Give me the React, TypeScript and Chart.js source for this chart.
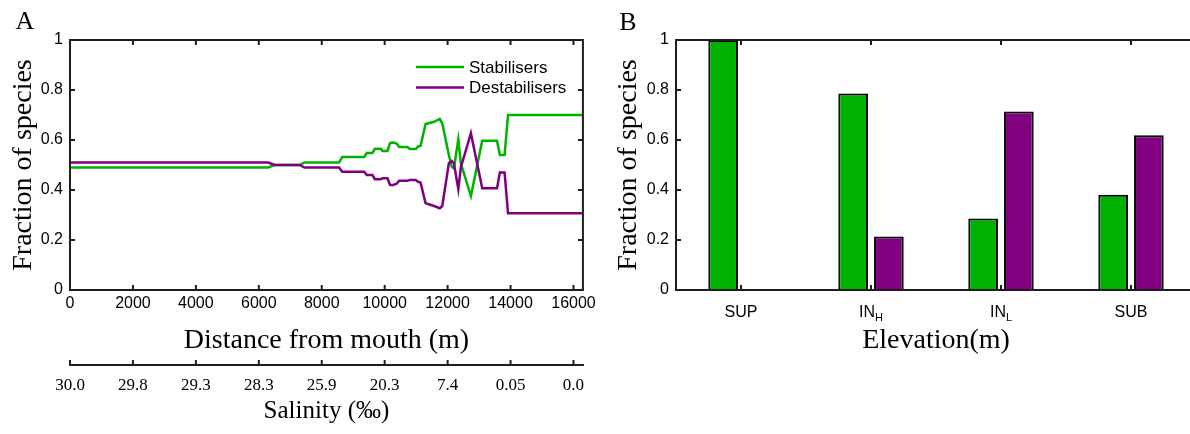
import React, { useEffect, useRef } from 'react';
import { Chart, registerables } from 'chart.js';

Chart.register(...registerables);

// ---------- Data ----------
const distance = [
  0, 6300, 6500, 7300, 7450, 8550, 8650, 9350, 9430, 9610, 9690, 9880, 9930, 10090,
  10170, 10270, 10380, 10460, 10720, 10800, 10990, 11060, 11140, 11300, 11570, 11750,
  11830, 12040, 12130, 12200, 12340, 12420, 12740, 13100, 13570, 13660, 13810, 13920, 16300,
];
const stabilisers = [
  0.49, 0.49, 0.5, 0.5, 0.51, 0.51, 0.532, 0.532, 0.548, 0.548, 0.565, 0.565, 0.556, 0.556,
  0.588, 0.59, 0.586, 0.572, 0.572, 0.564, 0.564, 0.574, 0.576, 0.664, 0.673, 0.684,
  0.667, 0.54, 0.493, 0.487, 0.603, 0.507, 0.376, 0.597, 0.597, 0.54, 0.54, 0.7, 0.7,
];
const destabilisers = [
  0.51, 0.51, 0.5, 0.5, 0.49, 0.49, 0.473, 0.473, 0.46, 0.46, 0.443, 0.443, 0.447, 0.447,
  0.42, 0.42, 0.425, 0.437, 0.437, 0.44, 0.44, 0.433, 0.43, 0.347, 0.336, 0.327,
  0.336, 0.507, 0.516, 0.507, 0.403, 0.49, 0.627, 0.407, 0.407, 0.47, 0.47, 0.307, 0.307,
];
const distanceTicks = [0, 2000, 4000, 6000, 8000, 10000, 12000, 14000, 16000];
const salinityLabels = ['30.0', '29.8', '29.3', '28.3', '25.9', '20.3', '7.4', '0.05', '0.0'];
const fractionTicks = [0, 0.2, 0.4, 0.6, 0.8, 1];

const elevationCategories = ['SUP', 'IN_H', 'IN_L', 'SUB'];
const elevationMain = ['SUP', 'IN', 'IN', 'SUB'];
const elevationSub = ['', 'H', 'L', ''];
const barStabilisers = [1.0, 0.786, 0.286, 0.381];
const barDestabilisers = [0, 0.214, 0.714, 0.619];

// ---------- Styles ----------
const SANS = "'Liberation Sans', Arial, Helvetica, sans-serif";
const SERIF = "'Liberation Serif', 'Times New Roman', Times, serif";
const GREEN = 'rgb(0,178,0)';
const PURPLE = 'rgb(128,0,128)';
const AXIS = '#1e1e1e';
const TICK_LEN = 5;

const framePlugin = {
  id: 'frameTicks',
  afterDatasetsDraw(chart: any) {
    const { ctx, chartArea: a, scales } = chart;
    ctx.save();
    ctx.strokeStyle = AXIS;
    ctx.lineWidth = 2;
    ctx.beginPath();
    ctx.rect(a.left, a.top, a.right - a.left, a.bottom - a.top);
    const xs = scales.x;
    xs.ticks.forEach((_t: any, i: number) => {
      const px = xs.getPixelForTick(i);
      ctx.moveTo(px, a.bottom);
      ctx.lineTo(px, a.bottom - TICK_LEN);
      ctx.moveTo(px, a.top);
      ctx.lineTo(px, a.top + TICK_LEN);
    });
    const ys = scales.y;
    ys.ticks.forEach((_t: any, i: number) => {
      const py = ys.getPixelForTick(i);
      ctx.moveTo(a.left, py);
      ctx.lineTo(a.left + TICK_LEN, py);
      ctx.moveTo(a.right, py);
      ctx.lineTo(a.right - TICK_LEN, py);
    });
    const x2 = scales.x2;
    if (x2) {
      const y0 = x2.top;
      ctx.moveTo(a.left - 1, y0);
      ctx.lineTo(a.right + 1, y0);
      x2.ticks.forEach((_t: any, i: number) => {
        const px = x2.getPixelForTick(i);
        ctx.moveTo(px, y0);
        ctx.lineTo(px, y0 - TICK_LEN);
      });
    }
    ctx.stroke();
    ctx.restore();
  },
};

const panelLabelPlugin = {
  id: 'panelLabel',
  afterDraw(chart: any, _args: any, opts: any) {
    if (!opts || !opts.text) return;
    const { ctx } = chart;
    ctx.save();
    ctx.font = opts.font;
    ctx.fillStyle = '#000';
    ctx.textAlign = 'center';
    ctx.textBaseline = 'middle';
    ctx.fillText(opts.text, opts.x, opts.y);
    ctx.restore();
  },
};

const lineLegendPlugin = {
  id: 'lineLegend',
  afterDraw(chart: any, _args: any, opts: any) {
    if (!opts || !opts.display) return;
    const { ctx } = chart;
    ctx.save();
    ctx.font = opts.font;
    ctx.textAlign = 'left';
    ctx.textBaseline = 'middle';
    chart.data.datasets.forEach((ds: any, i: number) => {
      const y = opts.y + i * opts.rowGap;
      ctx.strokeStyle = ds.borderColor;
      ctx.lineWidth = ds.borderWidth;
      ctx.beginPath();
      ctx.moveTo(opts.x, y);
      ctx.lineTo(opts.x + opts.lineLength, y);
      ctx.stroke();
      ctx.fillStyle = '#000';
      ctx.fillText(ds.label, opts.x + opts.lineLength + opts.gap, y + 1);
    });
    ctx.restore();
  },
};

const subLabelPlugin = {
  id: 'subLabels',
  afterDraw(chart: any, _args: any, opts: any) {
    if (!opts || !opts.display) return;
    const { ctx } = chart;
    const xs = chart.scales.x;
    const baseY = chart.chartArea.bottom + opts.offset;
    ctx.save();
    ctx.fillStyle = '#000';
    ctx.textAlign = 'left';
    ctx.textBaseline = 'alphabetic';
    xs.ticks.forEach((_t: any, i: number) => {
      const main = elevationMain[i];
      const sub = elevationSub[i];
      ctx.font = opts.mainFont;
      const w1 = ctx.measureText(main).width;
      ctx.font = opts.subFont;
      const w2 = sub ? ctx.measureText(sub).width : 0;
      const cx = xs.getPixelForTick(i);
      const start = cx - (w1 + w2) / 2;
      ctx.font = opts.mainFont;
      ctx.fillText(main, start, baseY);
      if (sub) {
        ctx.font = opts.subFont;
        ctx.fillText(sub, start + w1, baseY + opts.subDrop);
      }
    });
    ctx.restore();
  },
};

function LeftChart() {
  const ref = useRef<HTMLCanvasElement | null>(null);
  useEffect(() => {
    if (!ref.current) return;
    const chart = new Chart(ref.current, {
      type: 'line',
      data: {
        datasets: [
          {
            label: 'Stabilisers',
            data: distance.map((d, i) => ({ x: d, y: stabilisers[i] })),
            borderColor: GREEN,
            borderWidth: 2.5,
            pointRadius: 0,
            tension: 0,
            order: 1,
          },
          {
            label: 'Destabilisers',
            data: distance.map((d, i) => ({ x: d, y: destabilisers[i] })),
            borderColor: PURPLE,
            borderWidth: 2.5,
            pointRadius: 0,
            tension: 0,
            order: 0,
          },
        ],
      },
      options: {
        animation: false,
        responsive: false,
        devicePixelRatio: 1,
        events: [],
        layout: { padding: { left: 0, top: 40, right: 14.5, bottom: 0 }, autoPadding: false },
        plugins: {
          legend: { display: false },
          tooltip: { enabled: false },
          panelLabel: { text: 'A', x: 25, y: 22, font: `26px ${SERIF}` },
          lineLegend: {
            display: true,
            x: 416,
            y: 67,
            rowGap: 20.5,
            lineLength: 48,
            gap: 5,
            font: `17px ${SANS}`,
          },
        } as any,
        scales: {
          x: {
            type: 'linear',
            position: 'bottom',
            min: 0,
            max: 16300,
            weight: 0,
            grid: { display: false, drawTicks: false },
            border: { display: false },
            afterBuildTicks: (s: any) => {
              s.ticks = distanceTicks.map((v) => ({ value: v }));
            },
            afterFit: (s: any) => {
              s.height = 75;
            },
            ticks: {
              autoSkip: false,
              maxRotation: 0,
              padding: 4,
              color: '#000',
              font: { family: SANS, size: 16 },
              callback: (v: any) => String(v),
            },
            title: {
              display: true,
              text: 'Distance from mouth (m)',
              color: '#000',
              font: { family: SERIF, size: 28 },
              padding: { top: 0, bottom: 8 },
            },
          },
          x2: {
            type: 'linear',
            position: 'bottom',
            min: 0,
            max: 16300,
            weight: 1,
            grid: { display: false, drawTicks: false },
            border: { display: false },
            afterBuildTicks: (s: any) => {
              s.ticks = distanceTicks.map((v) => ({ value: v }));
            },
            afterFit: (s: any) => {
              s.height = 69;
            },
            ticks: {
              autoSkip: false,
              maxRotation: 0,
              padding: 10,
              color: '#000',
              font: { family: SERIF, size: 17 },
              callback: (v: any) => salinityLabels[distanceTicks.indexOf(Number(v))],
            },
            title: {
              display: true,
              text: 'Salinity (‰)',
              color: '#000',
              font: { family: SERIF, size: 25 },
              padding: { top: 0, bottom: 8 },
            },
          },
          y: {
            type: 'linear',
            min: 0,
            max: 1,
            grid: { display: false, drawTicks: false },
            border: { display: false },
            afterBuildTicks: (s: any) => {
              s.ticks = fractionTicks.map((v) => ({ value: v }));
            },
            afterFit: (s: any) => {
              s.width = 70;
            },
            ticks: {
              padding: 7,
              color: '#000',
              font: { family: SANS, size: 16 },
              callback: (v: any) => String(v),
            },
            title: {
              display: true,
              text: 'Fraction of species',
              color: '#000',
              font: { family: SERIF, size: 28 },
              padding: { top: 7, bottom: 0 },
            },
          },
        },
      } as any,
      plugins: [framePlugin, panelLabelPlugin, lineLegendPlugin],
    });
    return () => chart.destroy();
  }, []);
  return (
    <canvas
      ref={ref}
      width={600}
      height={434}
      style={{ position: 'absolute', left: 0, top: 0, width: 600, height: 434 }}
    />
  );
}

function RightChart() {
  const ref = useRef<HTMLCanvasElement | null>(null);
  useEffect(() => {
    if (!ref.current) return;
    const chart = new Chart(ref.current, {
      type: 'bar',
      data: {
        labels: elevationCategories,
        datasets: [
          {
            label: 'Stabilisers',
            data: barStabilisers,
            backgroundColor: GREEN,
            borderColor: '#000',
            borderWidth: 2,
            borderSkipped: 'start',
            categoryPercentage: 0.55,
            barPercentage: 0.83,
          },
          {
            label: 'Destabilisers',
            data: barDestabilisers,
            backgroundColor: PURPLE,
            borderColor: '#000',
            borderWidth: 2,
            borderSkipped: 'start',
            categoryPercentage: 0.55,
            barPercentage: 0.83,
          },
        ],
      },
      options: {
        animation: false,
        responsive: false,
        devicePixelRatio: 1,
        events: [],
        layout: { padding: { left: 0, top: 40, right: 24, bottom: 69 }, autoPadding: false },
        plugins: {
          legend: { display: false },
          tooltip: { enabled: false },
          panelLabel: { text: 'B', x: 28, y: 23, font: `26px ${SERIF}` },
          subLabels: {
            display: true,
            offset: 26.5,
            subDrop: 4,
            mainFont: `16px ${SANS}`,
            subFont: `11px ${SANS}`,
          },
        } as any,
        scales: {
          x: {
            type: 'category',
            grid: { display: false, drawTicks: false },
            border: { display: false },
            afterFit: (s: any) => {
              s.height = 75;
            },
            ticks: { display: false },
            title: {
              display: true,
              text: 'Elevation(m)',
              color: '#000',
              font: { family: SERIF, size: 28 },
              padding: { top: 0, bottom: 8 },
            },
          },
          y: {
            type: 'linear',
            min: 0,
            max: 1,
            grid: { display: false, drawTicks: false },
            border: { display: false },
            afterBuildTicks: (s: any) => {
              s.ticks = fractionTicks.map((v) => ({ value: v }));
            },
            afterFit: (s: any) => {
              s.width = 76;
            },
            ticks: {
              padding: 7,
              color: '#000',
              font: { family: SANS, size: 16 },
              callback: (v: any) => String(v),
            },
            title: {
              display: true,
              text: 'Fraction of species',
              color: '#000',
              font: { family: SERIF, size: 28 },
              padding: { top: 11.5, bottom: 0 },
            },
          },
        },
      } as any,
      plugins: [framePlugin, panelLabelPlugin, subLabelPlugin],
    });
    return () => chart.destroy();
  }, []);
  return (
    <canvas
      ref={ref}
      width={620}
      height={434}
      style={{ position: 'absolute', left: 600, top: 0, width: 620, height: 434 }}
    />
  );
}

export default function App() {
  return (
    <div
      style={{
        position: 'absolute',
        left: 0,
        top: 0,
        width: 1190,
        height: 434,
        overflow: 'hidden',
        background: '#fff',
      }}
    >
      <LeftChart />
      <RightChart />
    </div>
  );
}
